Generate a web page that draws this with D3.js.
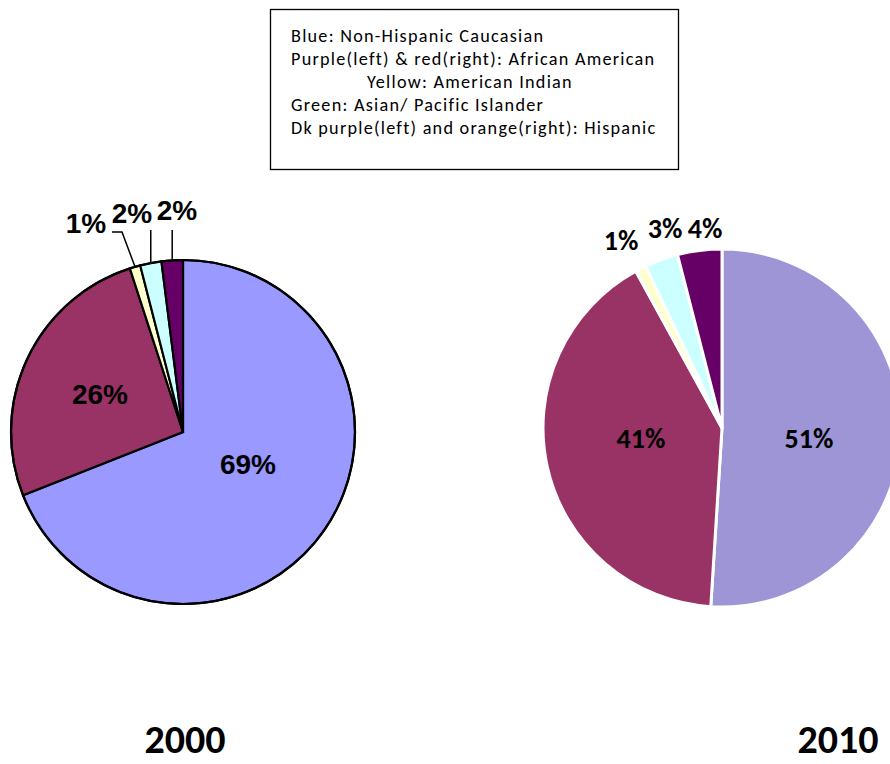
<!DOCTYPE html>
<html><head><meta charset="utf-8">
<script src="https://cdn.jsdelivr.net/npm/d3@7"></script>
<style>html,body{margin:0;padding:0;background:#fff;}</style>
</head><body>
<svg id="chart" width="890" height="764"></svg>
<script>
// Population share by group, 2000 vs 2010
const groups = ["Non-Hispanic Caucasian", "African American", "American Indian", "Asian/ Pacific Islander", "Hispanic"];
const values2000 = [69, 26, 1, 2, 2];
const values2010 = [51, 41, 1, 3, 4];
const colors2000 = ["#9999FF", "#993366", "#FFFFCC", "#CCFFFF", "#660066"];
const colors2010 = ["#9D95D5", "#993366", "#FFFFCC", "#CCFFFF", "#660066"];
const years = ["2000", "2010"];
const legendLines = [
  "Blue: Non-Hispanic Caucasian",
  "Purple(left) & red(right): African American",
  "Yellow: American Indian",
  "Green: Asian/ Pacific Islander",
  "Dk purple(left) and orange(right): Hispanic"
];

const svg = d3.select("#chart");
const calibri = "Carlito, Calibri, Lato, 'Open Sans', sans-serif";
const arial = "'Liberation Sans', Arial, sans-serif";

// ---- legend box ----
const legend = svg.append("g");
legend.append("rect").attr("x", 270.5).attr("y", 9.5).attr("width", 408).attr("height", 160)
  .attr("fill", "#fff").attr("stroke", "#000").attr("stroke-width", 1.3);
const legendX = [291, 291, 367, 291, 291];
const legendText = legend.selectAll("text").data(legendLines).join("text")
  .attr("x", (d, i) => legendX[i])
  .attr("y", (d, i) => 42 + i * 23.1)
  .attr("font-family", calibri).attr("font-size", 18.2).attr("fill", "#000")
  .text(d => d);
// widen the tracking a little so the longest line spans the box
(function fitLegend() {
  const t = legendText.nodes()[4];
  const w = t.getComputedTextLength();
  const target = 365;
  const n = legendLines[4].length;
  const ls = Math.max(0, (target - w) / n);
  legendText.attr("letter-spacing", ls);
})();

const pie = d3.pie().sort(null).value(d => d);

function drawPie(cfg) {
  const g = svg.append("g").attr("transform", `translate(${cfg.cx},${cfg.cy})`);
  const arcs = pie(cfg.values);
  const arc = d3.arc().innerRadius(0).outerRadius(cfg.r);
  g.selectAll("path.slice").data(arcs).join("path")
    .attr("class", "slice")
    .attr("d", arc)
    .attr("fill", (d, i) => cfg.colors[i])
    .attr("stroke", cfg.stroke).attr("stroke-width", cfg.strokeWidth)
    .attr("stroke-linejoin", "miter");
  if (cfg.outline) {
    g.append("circle").attr("r", cfg.r).attr("fill", "none")
      .attr("stroke", cfg.stroke).attr("stroke-width", cfg.strokeWidth);
  }
  // leader lines from slice rims to their labels
  const rimPoint = d => {
    const a = (d.startAngle + d.endAngle) / 2;
    return [cfg.r * Math.sin(a), -cfg.r * Math.cos(a)];
  };
  arcs.forEach((d, i) => {
    const lay = cfg.labels[i];
    if (!lay.leader) return;
    const p0 = rimPoint(d);
    const pts = [p0].concat(lay.leader.map(p => [p[0] === null ? p0[0] : p[0] - cfg.cx, p[1] - cfg.cy]));
    g.append("path").attr("d", d3.line()(pts)).attr("fill", "none")
      .attr("stroke", "#000").attr("stroke-width", 1.5);
  });
  svg.append("g").selectAll("text").data(arcs).join("text")
    .attr("x", (d, i) => cfg.labels[i].x)
    .attr("y", (d, i) => cfg.labels[i].y)
    .attr("text-anchor", "middle")
    .attr("font-family", cfg.font).attr("font-weight", "bold")
    .attr("font-size", cfg.fontSize).attr("fill", "#000")
    .text(d => d.data + "%");
}

drawPie({
  cx: 183, cy: 432, r: 172, values: values2000, colors: colors2000,
  stroke: "#000", strokeWidth: 2.2, outline: true, font: arial, fontSize: 28,
  labels: [
    { x: 248, y: 474 },
    { x: 100, y: 404 },
    { x: 86, y: 233, leader: [[122, 232], [112, 232]] },
    { x: 132, y: 223, leader: [[null, 230]] },
    { x: 177, y: 220, leader: [[null, 230]] }
  ]
});

drawPie({
  cx: 722, cy: 428, r: 179, values: values2010, colors: colors2010,
  stroke: "#fff", strokeWidth: 3, outline: false, font: calibri, fontSize: 28,
  labels: [
    { x: 809, y: 448 },
    { x: 641, y: 448 },
    { x: 621, y: 250 },
    { x: 665, y: 238 },
    { x: 705, y: 238 }
  ]
});

// ---- year captions ----
const yearX = [185, 838];
svg.append("g").selectAll("text").data(years).join("text")
  .attr("x", (d, i) => yearX[i]).attr("y", 753)
  .attr("text-anchor", "middle")
  .attr("font-family", calibri).attr("font-weight", "bold").attr("font-size", 40)
  .attr("fill", "#000")
  .text(d => d);
</script>
</body></html>
